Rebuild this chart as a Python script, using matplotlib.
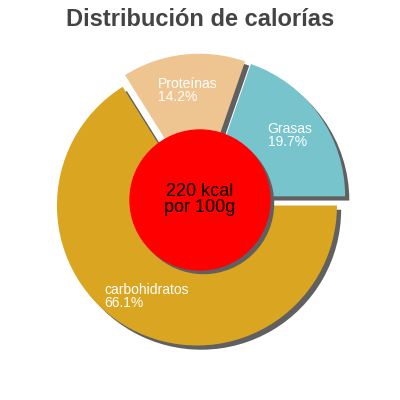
import numpy as np
import matplotlib.pyplot as plt
from matplotlib.patches import Circle

labels = ['Grasas', 'Proteínas', 'carbohidratos']
values = [19.7, 14.2, 66.1]
colors = ['#77C4CD', '#EEC591', '#DAA520']
kcal_text = '220 kcal\npor 100g'

plt.rcParams['font.family'] = ['Liberation Sans', 'DejaVu Sans']

fig = plt.figure(figsize=(4, 4), dpi=100)
ax = fig.add_axes([0, 0, 1, 1])
explode = [0.045] * len(values)

# shadow first, then the slices on top
ax.pie(values, colors=['#606060'] * 3, explode=explode, startangle=0,
       counterclock=True, radius=1.0, center=(0.03, -0.03))
ax.pie(values, colors=colors, explode=explode, startangle=0,
       counterclock=True, radius=1.0, center=(0, 0))

ax.add_patch(Circle((0.025, -0.025), 0.5, color='#606060', zorder=3))
ax.add_patch(Circle((0, 0), 0.5, color='#FF0000', zorder=4))
ax.text(0, 0.005, kcal_text, ha='center', va='center', fontsize=13,
        color='black', zorder=5, linespacing=0.95)

# labels
start = 0.0
for lab, v in zip(labels, values):
    mid = np.deg2rad(start + v * 3.6 / 2)
    start += v * 3.6
    r = 0.79
    ax.text(r * np.cos(mid), r * np.sin(mid), '%s\n%.1f%%' % (lab, v),
            ha='center', va='center', multialignment='left',
            color='white', fontsize=10, zorder=5, linespacing=0.9)

lim = 200 / 140
ax.set_xlim(-lim, lim)
ax.set_ylim(-lim, lim)
ax.set_aspect('equal')
ax.axis('off')

fig.text(0.5, 0.952, 'Distribución de calorías', ha='center', va='center',
         fontsize=17, fontweight='bold', color='#444444')

fig.savefig('out.png', dpi=100)
